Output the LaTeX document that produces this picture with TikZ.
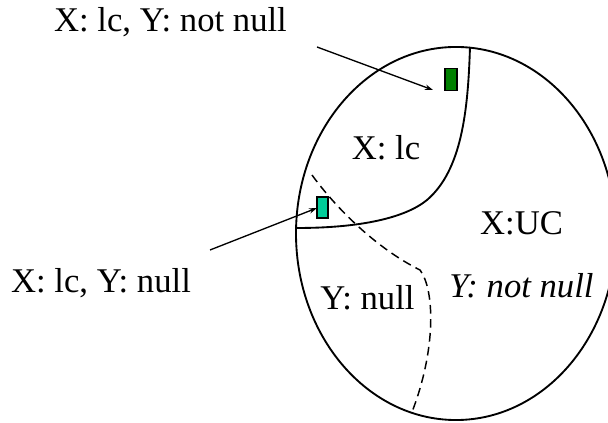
\documentclass[tikz,border=0pt]{standalone}
\usepackage{fontspec}
\setmainfont{Liberation Serif}
\usetikzlibrary{arrows.meta}
\definecolor{darkgreen}{RGB}{0,128,0}
\definecolor{aquagreen}{RGB}{0,204,153}

\begin{document}
\begin{tikzpicture}[
  x=0.75pt, y=-0.75pt,
  font=\fontsize{26}{30}\selectfont,
  caption/.style={inner sep=0pt, anchor=base},
  marker/.style={draw, line width=0.9pt, inner sep=0pt},
  region/.style={line width=1.4pt},
  border/.style={line width=1.1pt, dash pattern=on 6.5pt off 4pt},
  arrow/.style={-{Stealth[length=6pt, width=4pt]}, line width=1pt},
]
\clip (0,0) rectangle (608,423);

\draw[region] (456,233.5) ellipse [x radius=120pt, y radius=139.9pt];
\draw[region] (470,47) .. controls (468,110) and (462,170) .. (427,200)
  .. controls (405,218) and (360,228) .. (297,228);
\draw[border] (312,175) .. controls (330,200) and (370,245) .. (420,270)
  .. controls (435,290) and (436,350) .. (412,412);

\node[marker, fill=darkgreen, minimum width=9pt, minimum height=17pt] (notnullbox) at (451,79.5) {};
\node[marker, fill=aquagreen, minimum width=8.3pt, minimum height=15.8pt] (nullbox) at (322.5,207.5) {};

\node[caption] (toplabel) at (170.5,32) {X: lc, Y: not null};
\node[caption] (leftlabel) at (101,293) {X: lc, Y: null};
\node[caption] (lcarea) at (386,160) {X: lc};
\node[caption] (ucarea) at (521.5,235) {X:UC};
\node[caption] (notnullarea) at (521.5,298) {\itshape Y: not null};
\node[caption] (nullarea) at (367.5,310) {Y: null};

\coordinate (topstart) at (317,47);
\coordinate (topend) at (433,90);
\coordinate (leftstart) at (210,250);
\coordinate (leftend) at (317,208);

\draw[arrow] (topstart) -- (topend);
\draw[arrow] (leftstart) -- (leftend);
\end{tikzpicture}
\end{document}
